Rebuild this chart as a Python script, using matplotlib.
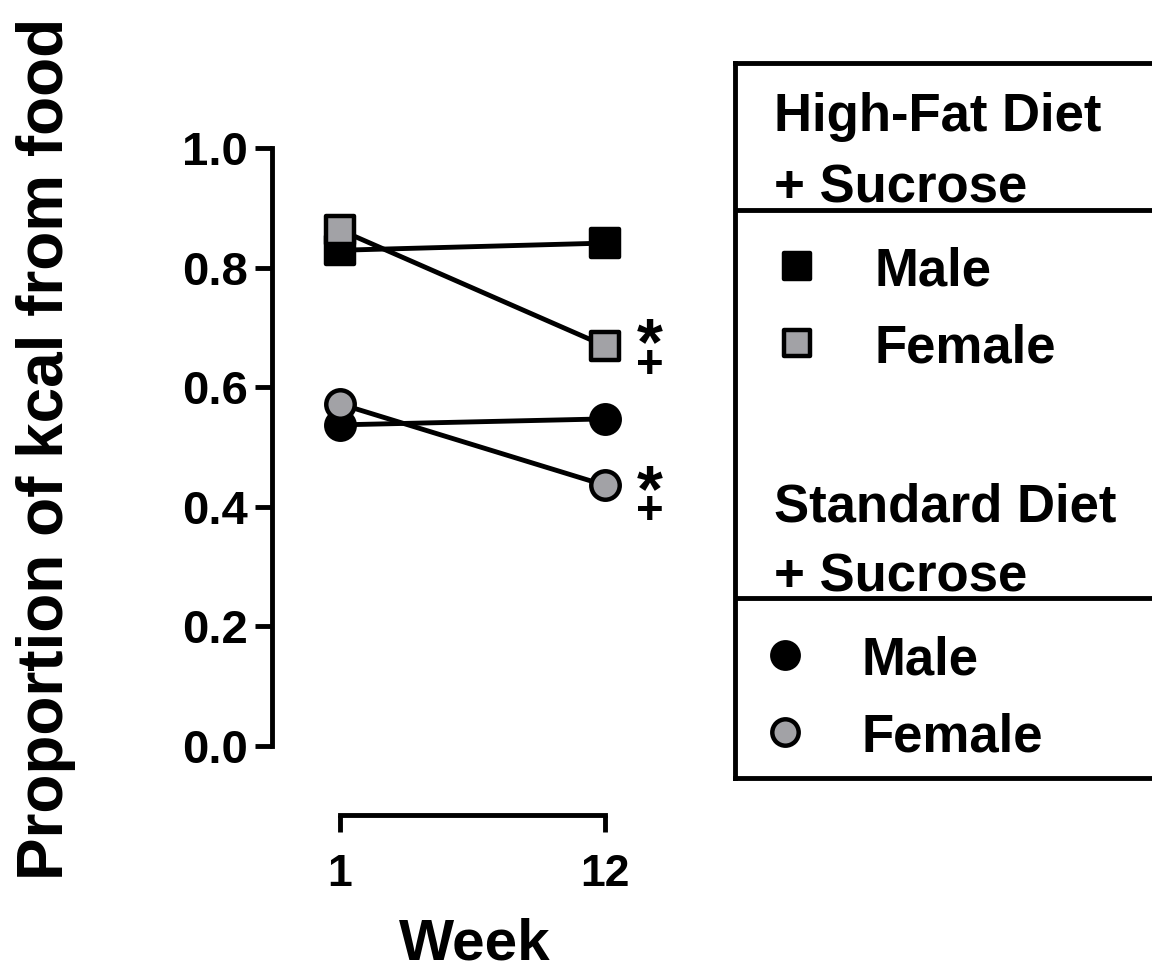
import numpy as np
import matplotlib
matplotlib.use("Agg")
import matplotlib.pyplot as plt
from matplotlib.markers import MarkerStyle

plt.rcParams["font.family"] = ["Liberation Sans", "DejaVu Sans"]
plt.rcParams["font.weight"] = "bold"

weeks = ["1", "12"]
hf_male = [0.829, 0.841]
hf_female = [0.863, 0.669]
sd_male = [0.537, 0.547]
sd_female = [0.572, 0.436]
yticks = [0.0, 0.2, 0.4, 0.6, 0.8, 1.0]

GRAY = "#a2a2a6"
LW = 3.5
MS = 20.5
MEW = 3.2
SQ = MarkerStyle("s", joinstyle="round")
CI = MarkerStyle("o")

W, H = 1152, 973
fig = plt.figure(figsize=(W / 100, H / 100), dpi=100)
ax = fig.add_axes([272 / W, 1 - 746 / H, (640 - 272) / W, (746 - 148) / H])

x = np.arange(len(weeks))
series = [
    (hf_male, SQ, "black"),
    (hf_female, SQ, GRAY),
    (sd_male, CI, "black"),
    (sd_female, CI, GRAY),
]
for vals, mk, fc in series:
    ax.plot(x, vals, color="black", lw=LW, marker=mk, ms=MS, mfc=fc,
            mec="black", mew=MEW, clip_on=False, zorder=3)

# significance marks (* and +) beside the week-12 female points
marks = [(hf_female, -14, 17), (sd_female, -6, 24)]  # pixel offsets of glyph centres
for vals, dy_star, dy_plus in marks:
    ax.annotate("*", (x[-1], vals[-1]), xytext=(32, -(dy_star + 32) * 0.72),
                textcoords="offset points", ha="center", va="baseline",
                fontsize=48, fontweight="bold")
    ax.annotate("+", (x[-1], vals[-1]), xytext=(32, -(dy_plus + 15) * 0.72),
                textcoords="offset points", ha="center", va="baseline",
                fontsize=34, fontweight="bold")

ax.set_xlim(-0.2566, 1.132)
ax.set_ylim(0, 1)
ax.set_yticks(yticks)
ax.set_yticklabels([f"{v:.1f}" for v in yticks])
ax.set_xticks(x)
ax.set_xticklabels(weeks)

for s in ("top", "right"):
    ax.spines[s].set_visible(False)
ax.spines["left"].set_linewidth(3.5)
ax.spines["bottom"].set_linewidth(3.5)
ax.spines["bottom"].set_position(("outward", 50))
ax.spines["bottom"].set_bounds(0, 1)
ax.tick_params(axis="both", width=3.5, length=12)
ax.tick_params(axis="y", labelsize=34, pad=5.5)
ax.tick_params(axis="x", labelsize=32, pad=16)
for t in ax.get_xticklabels() + ax.get_yticklabels():
    t.set_fontweight("bold")

ax.set_ylabel("Proportion of kcal from food", fontsize=46, fontweight="bold")
ax.yaxis.set_label_coords(76 / W, 1 - 449 / H, transform=fig.transFigure)
ax.set_xlabel("Week", fontsize=42, fontweight="bold")
ax.xaxis.set_label_coords(475 / W, 1 - 918 / H, transform=fig.transFigure)

# legend box drawn by hand (grouped, with separators, clipped at right edge)
lg = fig.add_axes([735 / W, 1 - 778 / H, 1 - 735 / W, (778 - 63) / H])
lg.set_xlim(735, W)
lg.set_ylim(778, 63)
lg.set_xticks([])
lg.set_yticks([])
lg.spines["right"].set_visible(False)
for s in ("left", "top", "bottom"):
    lg.spines[s].set_linewidth(3.5)
lg.patch.set_alpha(0)

for ysep in (210, 598):
    lg.axhline(ysep, color="black", lw=3.5)

tkw = dict(fontsize=38, fontweight="bold", va="center_baseline", ha="left")
lg.text(774, 112, "High-Fat Diet", **tkw)
lg.text(774, 183, "+ Sucrose", **tkw)
lg.text(774, 502, "Standard Diet", **tkw)
lg.text(774, 572, "+ Sucrose", **tkw)

legend_rows = [
    (SQ, "black", 797, 266, 875, "Male"),
    (SQ, GRAY, 797, 343, 875, "Female"),
    (CI, "black", 785, 655, 862, "Male"),
    (CI, GRAY, 785, 732, 862, "Female"),
]
for mk, fc, mx, my, tx, lab in legend_rows:
    lg.plot([mx], [my], marker=mk, ms=MS - 1.5, mfc=fc,
            mec="black", mew=MEW, ls="none", clip_on=False)
    lg.text(tx, my, lab, **tkw)

fig.savefig("out.png", dpi=100)
